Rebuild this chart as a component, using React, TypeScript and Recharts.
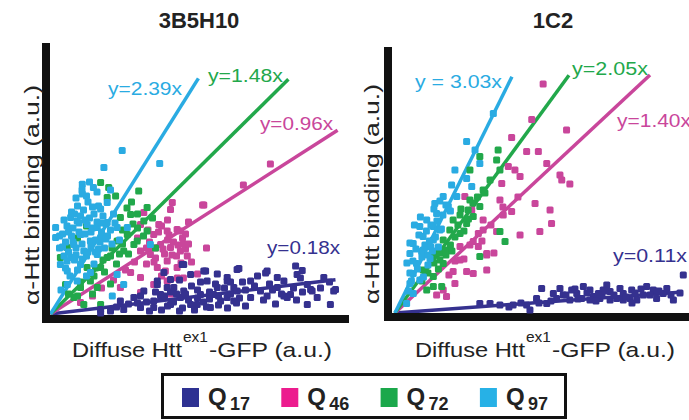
import React from 'react';
import { ScatterChart, Scatter, XAxis, YAxis, ReferenceLine } from 'recharts';

type Pt = [number, number];

// colours
const NAVY = '#35318f';
const MAGENTA = '#c9469b';
const GREEN = '#22a84b';
const CYAN = '#2aabe2';

const legendItems = [
    { name: 'Q', sub: '17', color: '#2e3192' },
    { name: 'Q', sub: '46', color: '#ec1c8e' },
    { name: 'Q', sub: '72', color: '#1ba84b' },
    { name: 'Q', sub: '97', color: '#27b1e6' },
];

// ---- 3B5H10 panel ----
const leftQ17: Pt[] = [
    [6.28, 2.28], [7.22, 2.15], [8.39, 2.18], [8.22, 1.98], [5.17, 2.15], [4.67, 1.98], [4.39, 2.48], [7.56, 1.82],
    [9.11, 1.82], [5.89, 1.65], [6.67, 1.65], [7.78, 1.65], [8.56, 1.48], [9.44, 1.15], [5.56, 1.32], [6.22, 1.15],
    [7.0, 1.15], [7.56, 1.32], [8.0, 0.98], [8.89, 0.82], [8.67, 1.23], [6.11, 0.65], [6.67, 0.82], [5.67, 0.65],
    [5.0, 0.98], [4.44, 1.15], [3.89, 1.32], [3.67, 0.82], [4.0, 0.48], [4.67, 0.48], [5.33, 0.32], [3.44, 0.32],
    [7.89, 0.82], [7.22, 0.9], [5.22, 1.65], [4.0, 1.73], [3.56, 1.65], [4.44, 2.48], [5.11, 2.15], [5.89, 1.82],
    [3.78, 2.07], [3.56, 1.48], [3.11, 1.15], [2.78, 0.82], [2.33, 0.65], [1.67, 0.23], [4.11, 1.32], [4.33, 0.82],
    [3.44, 0.65], [3.0, 0.32], [4.89, 0.48], [5.44, 0.98], [5.89, 0.82], [6.11, 1.32], [3.67, 0.98], [2.44, 0.23],
    [8.17, 2.4], [6.22, 2.23], [8.72, 1.15], [9.5, 1.23], [9.33, 0.48], [8.56, 0.48], [7.78, 0.9], [8.33, 1.8],
    [7.17, 2.05], [5.56, 2.0], [1.67, 0.05], [3.8, 0.9], [4.2, 1.0], [4.6, 0.7], [4.9, 1.2], [5.1, 0.6],
    [5.3, 1.1], [5.6, 0.9], [5.8, 1.3], [6.0, 1.0], [6.3, 0.8], [6.5, 1.2], [6.8, 1.4], [7.1, 0.7],
    [7.4, 1.2], [7.7, 1.0], [8.1, 1.3], [8.4, 1.1], [3.2, 0.6], [3.9, 0.4], [4.4, 0.3], [4.8, 0.2],
    [5.0, 1.6], [5.5, 1.5], [6.4, 1.6], [6.9, 1.9], [4.3, 1.7], [4.7, 1.4], [2.6, 0.5], [2.2, 0.35], [3.0, 0.9],
    [3.3, 0.15], [3.7, 0.2], [4.1, 0.6], [4.5, 1.0], [4.9, 0.8], [5.2, 0.35], [5.6, 0.45], [5.9, 0.3],
    [6.2, 0.55], [6.5, 0.4], [4.3, 0.15], [3.5, 1.1], [4.0, 1.1], [5.3, 0.75], [6.0, 1.6], [7.3, 1.5],
    [7.5, 0.5], [8.2, 0.7], [9.0, 1.3], [9.3, 1.6], [2.9, 0.55], [2.0, 0.15],
];
const leftQ46: Pt[] = [
    [3.11, 5.07], [4.06, 5.57], [4.0, 5.23], [5.11, 5.45], [3.61, 4.48], [3.0, 4.48], [3.44, 3.98], [3.89, 4.15],
    [4.22, 4.23], [3.67, 3.48], [4.0, 3.32], [4.33, 3.15], [4.56, 2.9], [3.33, 2.98], [3.0, 3.15], [3.89, 2.65],
    [4.22, 2.32], [3.56, 2.32], [3.0, 1.82], [2.67, 2.07], [3.89, 1.65], [3.44, 1.48], [3.0, 1.07], [2.33, 1.32],
    [1.0, 0.57], [7.33, 7.5], [6.43, 6.45], [5.07, 5.45], [4.33, 4.15], [4.5, 3.25], [4.0, 1.0], [4.43, 3.5],
    [3.83, 2.15], [4.23, 1.8], [4.43, 1.8], [3.2, 2.5], [3.5, 2.8], [3.8, 3.0], [4.1, 3.6], [4.4, 3.8],
    [3.6, 4.1], [3.9, 3.7], [4.2, 2.9], [4.7, 2.6], [3.3, 3.6], [2.8, 2.6], [2.5, 2.2], [2.1, 1.7],
    [1.7, 1.3], [1.4, 0.9], [3.7, 1.9], [4.9, 2.0], [5.2, 3.3], [4.6, 4.6], [3.9, 4.7],
    [3.5, 3.3], [3.75, 3.25], [4.05, 2.95], [4.35, 2.55], [3.45, 2.6], [3.2, 3.3], [3.95, 3.95], [4.25, 3.45],
    [4.5, 4.0], [3.7, 4.4], [3.25, 4.2], [2.9, 3.8], [4.6, 3.5],
];
const leftQ72: Pt[] = [
    [1.67, 6.57], [1.94, 6.32], [2.94, 6.15], [1.89, 5.82], [2.17, 5.9], [3.22, 5.32], [2.67, 4.98], [2.33, 4.82],
    [3.11, 4.65], [3.22, 4.15], [2.56, 3.98], [2.22, 3.65], [2.78, 3.48], [2.44, 3.15], [0.56, 3.32], [0.33, 2.82],
    [1.89, 2.82], [1.67, 2.32], [1.22, 2.32], [1.33, 1.65], [1.56, 1.32], [1.0, 1.32], [0.78, 0.82], [1.11, 0.48],
    [1.67, 0.48], [0.5, 1.48], [2.89, 3.65], [1.0, 1.6], [1.5, 2.3], [2.0, 2.9], [2.4, 3.5], [2.6, 3.0],
    [2.9, 4.3], [3.1, 3.9], [1.8, 2.1], [2.2, 2.5], [0.6, 1.0], [0.9, 0.9], [1.4, 1.0], [3.4, 4.8],
    [2.7, 5.6], [1.2, 4.4], [0.9, 3.8], [3.5, 3.3], [2.0, 1.5],
    [2.4, 4.2], [2.75, 4.5], [2.05, 3.3], [2.3, 3.0], [1.75, 2.7], [2.55, 5.3], [2.9, 5.0], [1.45, 1.9],
];
const leftQ97: Pt[] = [
    [2.39, 8.18], [3.64, 7.52], [1.78, 7.32], [1.06, 6.49], [1.43, 6.32], [1.06, 6.0], [1.89, 5.57], [1.67, 5.25],
    [0.67, 4.82], [0.17, 4.32], [0.17, 3.82], [0.89, 4.65], [1.22, 4.48], [1.56, 4.32], [1.89, 4.57], [2.22, 4.32],
    [1.0, 3.98], [1.33, 3.65], [1.67, 3.82], [0.78, 3.48], [1.11, 3.15], [1.56, 2.98], [0.67, 2.82], [0.33, 2.48],
    [1.0, 2.48], [0.56, 2.15], [1.33, 2.07], [0.89, 1.65], [2.22, 1.98], [2.44, 1.48], [2.06, 0.9], [2.56, 4.32],
    [3.33, 3.48], [0.56, 1.48], [0.3, 3.3], [0.4, 4.0], [0.45, 2.9], [0.5, 3.6], [0.55, 4.4], [0.6, 3.1],
    [0.7, 3.9], [0.7, 5.1], [0.75, 4.3], [0.8, 2.7], [0.85, 3.3], [0.9, 5.4], [0.95, 4.1], [1.0, 4.9],
    [1.05, 3.5], [1.1, 5.2], [1.15, 4.0], [1.2, 2.9], [1.25, 5.6], [1.3, 4.8], [1.35, 3.4], [1.4, 4.3],
    [1.45, 5.0], [1.5, 3.1], [1.55, 4.6], [1.6, 5.4], [1.65, 3.6], [1.7, 4.1], [1.75, 4.9], [1.8, 3.3],
    [1.85, 4.5], [1.9, 3.9], [2.0, 4.2], [2.05, 3.5], [2.1, 5.0], [2.3, 3.7], [0.35, 1.2], [0.5, 2.3],
    [0.65, 1.9], [0.9, 2.2], [1.2, 1.9], [1.45, 2.5], [1.05, 6.2], [1.3, 6.6], [1.55, 6.1], [0.85, 5.8], [2.0, 6.2],
    [0.45, 4.7], [0.6, 4.1], [0.75, 3.6], [0.95, 4.55], [1.15, 4.7], [1.35, 4.1], [1.5, 3.7], [1.7, 4.55],
    [1.25, 3.1], [1.05, 2.75], [0.85, 2.95], [0.55, 2.65], [1.6, 3.25], [1.85, 3.75], [2.15, 4.55], [1.4, 5.35],
    [1.2, 5.9], [0.8, 5.0], [0.3, 3.9], [0.4, 3.35],
];

// ---- 1C2 panel ----
const rightQ17: Pt[] = [
    [9.61, 1.9], [4.89, 1.23], [3.17, 0.48], [3.5, 0.4], [4.39, 0.4], [4.5, 0.15], [5.06, 0.48], [5.39, 0.73],
    [5.61, 0.9], [5.89, 1.15], [6.06, 0.98], [6.22, 0.73], [6.5, 1.15], [6.61, 0.82], [6.78, 0.98], [7.06, 1.4],
    [7.17, 1.07], [7.39, 0.73], [7.61, 0.98], [7.89, 1.15], [8.28, 0.9], [8.61, 1.15], [8.72, 0.73], [8.94, 0.98],
    [9.28, 0.65], [9.06, 1.23], [5.83, 0.65], [6.28, 1.32], [6.83, 0.73], [7.5, 1.23], [8.06, 0.65], [8.39, 1.32],
    [5.28, 0.98], [5.5, 1.23], [6.5, 0.65], [7.17, 0.65], [7.83, 0.73], [6.94, 1.15], [7.61, 0.65], [3.94, 0.4],
    [2.83, 0.48], [4.72, 0.73], [5.7, 0.9], [6.1, 0.7], [6.4, 1.0], [6.7, 0.6], [6.9, 0.9], [7.3, 0.9],
    [7.7, 0.8], [8.0, 1.0], [8.5, 0.9], [8.8, 1.1], [9.2, 0.9], [6.0, 1.2], [7.0, 1.1], [5.2, 0.6],
    [4.8, 0.5], [4.2, 0.5], [3.8, 0.3], [9.5, 1.0], [8.2, 1.2], [7.9, 0.5],
];
const rightQ46: Pt[] = [
    [4.94, 11.45], [4.56, 9.68], [5.72, 9.15], [3.89, 8.78], [4.39, 8.07], [4.78, 8.07], [5.06, 7.48], [3.78, 7.32],
    [4.0, 7.15], [4.17, 6.82], [3.56, 6.48], [5.5, 6.9], [5.56, 6.65], [5.83, 6.45], [4.67, 5.48], [3.5, 5.65],
    [5.17, 5.15], [3.89, 5.07], [3.61, 4.9], [5.22, 4.48], [4.83, 4.07], [4.17, 3.9], [2.94, 4.65], [2.94, 4.15],
    [3.39, 4.07], [2.33, 5.82], [2.56, 5.15], [2.78, 3.98], [2.61, 3.57], [3.06, 2.98], [2.17, 3.32], [2.78, 3.32],
    [3.06, 2.9], [2.17, 2.65], [2.39, 2.07], [2.61, 1.98], [3.06, 2.15], [1.94, 2.07], [2.0, 1.48], [1.61, 1.15],
    [1.39, 0.9], [1.72, 0.82], [1.8, 1.9], [2.3, 2.7], [2.5, 3.4], [2.9, 3.6], [3.2, 4.4], [3.6, 5.3],
    [3.3, 3.0], [4.1, 5.8], [2.0, 2.6],
];
const rightQ72: Pt[] = [
    [3.44, 8.15], [2.83, 7.82], [3.39, 7.65], [2.5, 7.15], [3.5, 7.15], [3.17, 6.65], [2.94, 6.15], [2.5, 5.65],
    [2.83, 5.32], [2.44, 5.15], [2.17, 4.9], [1.94, 4.65], [2.39, 4.48], [2.61, 4.82], [1.83, 4.15], [2.17, 3.98],
    [1.61, 3.65], [3.67, 3.57], [3.5, 4.07], [1.72, 3.15], [1.39, 2.98], [1.5, 2.65], [0.94, 2.15], [1.28, 1.82],
    [1.5, 3.0], [1.28, 1.32], [1.56, 1.32], [2.83, 2.82], [1.61, 2.48], [1.06, 1.15], [1.1, 2.0], [1.3, 2.5],
    [1.45, 2.2], [1.7, 2.9], [1.85, 3.4], [2.0, 3.8], [2.1, 4.4], [2.3, 4.1], [2.45, 4.7], [2.6, 5.5],
    [2.75, 5.8], [3.0, 6.0], [1.2, 2.8], [0.9, 1.6], [1.9, 3.1], [2.2, 5.2],
];
const rightQ97: Pt[] = [
    [3.28, 9.98], [2.39, 8.57], [2.67, 8.15], [2.83, 7.48], [2.0, 7.15], [2.39, 6.73], [2.56, 6.32], [1.89, 6.4],
    [1.61, 5.82], [2.06, 5.82], [1.78, 5.32], [1.33, 5.48], [1.39, 4.98], [1.06, 4.65], [1.28, 4.32], [0.83, 4.32],
    [0.94, 3.82], [0.61, 3.48], [1.28, 3.65], [1.5, 4.15], [0.5, 2.98], [0.89, 3.07], [0.72, 2.48], [0.61, 1.98],
    [0.83, 1.65], [0.5, 1.48], [0.61, 0.98], [0.39, 0.48], [0.94, 3.15], [1.17, 2.73], [0.5, 2.0], [0.6, 2.6],
    [0.7, 3.2], [0.8, 3.9], [0.9, 2.8], [1.0, 3.4], [1.05, 4.1], [1.1, 2.9], [1.15, 3.6], [1.2, 4.4],
    [1.25, 3.1], [1.35, 3.8], [1.4, 4.6], [1.45, 3.3], [1.55, 4.2], [1.6, 4.9], [1.7, 5.4], [1.85, 5.1],
    [0.45, 1.1], [0.55, 1.6], [0.75, 2.2], [0.95, 1.8], [1.1, 2.4], [0.65, 4.4], [0.85, 4.8], [1.3, 5.2],
    [1.5, 5.6], [0.4, 2.5], [0.5, 3.5], [1.2, 3.3],
];

// fitted lines: slope and where the drawn line stops (x)
const leftFits = [
    { slope: 0.18, endX: 9.5, color: NAVY },
    { slope: 0.96, endX: 9.57, color: MAGENTA },
    { slope: 1.48, endX: 7.93, color: GREEN },
    { slope: 2.39, endX: 4.93, color: CYAN },
];
const rightFits = [
    { slope: 0.11, endX: 9.6, color: NAVY },
    { slope: 1.4, endX: 8.5, color: MAGENTA },
    { slope: 2.05, endX: 5.8, color: GREEN },
    { slope: 3.03, endX: 3.9, color: CYAN },
];

const toPts = (arr: Pt[]) => arr.map(([x, y]) => ({ x, y }));

const square = (color: string) => (props: any) => (
    <rect x={props.cx - 3.5} y={props.cy - 3.5} width={7} height={7} rx={1.5} fill={color} />
);

const FONT = '"Liberation Sans", Arial, sans-serif';

interface PanelProps {
    width: number;
    height: number;
    margin: { top: number; right: number; bottom: number; left: number };
    xDomain: [number, number];
    yDomain: [number, number];
    q17: Pt[];
    q46: Pt[];
    q72: Pt[];
    q97: Pt[];
    fits: { slope: number; endX: number; color: string }[];
}

const Panel = ({ width, height, margin, xDomain, yDomain, q17, q46, q72, q97, fits }: PanelProps) => {
    const [x0, x1] = xDomain;
    const [y0, y1] = yDomain;
    return (
        <ScatterChart width={width} height={height} margin={margin}>
            <XAxis type="number" dataKey="x" domain={xDomain} allowDataOverflow tick={false} tickLine={false} axisLine={false} height={0} />
            <YAxis type="number" dataKey="y" domain={yDomain} allowDataOverflow tick={false} tickLine={false} axisLine={false} width={0} />
            <Scatter data={toPts(q46)} fill={MAGENTA} shape={square(MAGENTA)} isAnimationActive={false} />
            <Scatter data={toPts(q72)} fill={GREEN} shape={square(GREEN)} isAnimationActive={false} />
            <Scatter data={toPts(q97)} fill={CYAN} shape={square(CYAN)} isAnimationActive={false} />
            <Scatter data={toPts(q17)} fill={NAVY} shape={square(NAVY)} isAnimationActive={false} />
            {fits.map((f, i) => (
                <ReferenceLine
                    key={i}
                    segment={[{ x: 0, y: 0 }, { x: f.endX, y: f.slope * f.endX }]}
                    stroke={f.color}
                    strokeWidth={3.5}
                    ifOverflow="visible"
                />
            ))}
            {/* heavy black axes */}
            <ReferenceLine segment={[{ x: x0, y: y0 }, { x: x1, y: y0 }]} stroke="#111" strokeWidth={8} strokeLinecap="square" ifOverflow="visible" />
            <ReferenceLine segment={[{ x: x0, y: y0 }, { x: x0, y: y1 }]} stroke="#111" strokeWidth={8} strokeLinecap="square" ifOverflow="visible" />
        </ScatterChart>
    );
};

// x label in three pieces so the superscript sits tight against "Htt"
const XLabel = ({ x }: { x: number }) => (
    <g fill="#222">
        <text x={x} y={357} fontSize={21} textLength={110} lengthAdjust="spacingAndGlyphs">Diffuse Htt</text>
        <text x={x + 111} y={342} fontSize={15} textLength={25} lengthAdjust="spacingAndGlyphs">ex1</text>
        <text x={x + 137} y={357} fontSize={21} textLength={123} lengthAdjust="spacingAndGlyphs">-GFP (a.u.)</text>
    </g>
);

const YLabel = ({ x, cy }: { x: number; cy: number }) => (
    <text
        transform={`translate(${x},${cy}) rotate(-90)`}
        textAnchor="middle"
        fontSize={21}
        fill="#222"
        textLength={220}
        lengthAdjust="spacingAndGlyphs"
    >
        α-Htt binding (a.u.)
    </text>
);

const FitLabel = ({ x, y, w, color, text }: { x: number; y: number; w: number; color: string; text: string }) => (
    <text x={x} y={y} fontSize={19} fill={color} textLength={w} lengthAdjust="spacingAndGlyphs">{text}</text>
);

export default function App() {
    return (
        <div style={{ position: 'absolute', left: 0, top: 0, width: 689, height: 420, background: '#fff', fontFamily: FONT, overflow: 'hidden' }}>
            <div style={{ position: 'absolute', left: 0, top: 0 }}>
                <Panel
                    width={349}
                    height={340}
                    margin={{ top: 47, right: 0, bottom: 21, left: 46 }}
                    xDomain={[-0.15, 9.95]}
                    yDomain={[-0.25, 13.35]}
                    q17={leftQ17}
                    q46={leftQ46}
                    q72={leftQ72}
                    q97={leftQ97}
                    fits={leftFits}
                />
            </div>
            <div style={{ position: 'absolute', left: 340, top: 0 }}>
                <Panel
                    width={349}
                    height={340}
                    margin={{ top: 51, right: 0, bottom: 23, left: 48 }}
                    xDomain={[-0.23, 9.8]}
                    yDomain={[-0.2, 13.1]}
                    q17={rightQ17}
                    q46={rightQ46}
                    q72={rightQ72}
                    q97={rightQ97}
                    fits={rightFits}
                />
            </div>
            <svg width={689} height={420} style={{ position: 'absolute', left: 0, top: 0, pointerEvents: 'none', fontFamily: FONT }}>
                <text x={199} y={28} textAnchor="middle" fontSize={22} fontWeight="bold" fill="#222">3B5H10</text>
                <text x={553} y={28} textAnchor="middle" fontSize={22} fontWeight="bold" fill="#222">1C2</text>

                <YLabel x={39} cy={195} />
                <YLabel x={379} cy={194} />
                <XLabel x={72} />
                <XLabel x={415} />

                <FitLabel x={108} y={95} w={74} color={CYAN} text="y=2.39x" />
                <FitLabel x={208} y={82} w={75} color={GREEN} text="y=1.48x" />
                <FitLabel x={260} y={130} w={73} color={MAGENTA} text="y=0.96x" />
                <FitLabel x={267} y={254} w={73} color={NAVY} text="y=0.18x" />
                <FitLabel x={415} y={88} w={87} color={CYAN} text="y = 3.03x" />
                <FitLabel x={572} y={75} w={76} color={GREEN} text="y=2.05x" />
                <FitLabel x={617} y={127} w={74} color={MAGENTA} text="y=1.40x" />
                <FitLabel x={613} y={262} w={74} color={NAVY} text="y=0.11x" />

                <rect x={162.5} y={374.5} width={403} height={43} fill="none" stroke="#111" strokeWidth={3} />
                {legendItems.map((item, i) => {
                    const x0 = 182 + i * 99.3;
                    return (
                        <g key={i}>
                            <rect x={x0} y={388} width={17} height={19} fill={item.color} />
                            <text x={x0 + 26} y={405} fontSize={24} fontWeight="bold" fill="#222">{item.name}</text>
                            <text x={x0 + 48} y={410} fontSize={18} fontWeight="bold" fill="#222">{item.sub}</text>
                        </g>
                    );
                })}
            </svg>
        </div>
    );
}
